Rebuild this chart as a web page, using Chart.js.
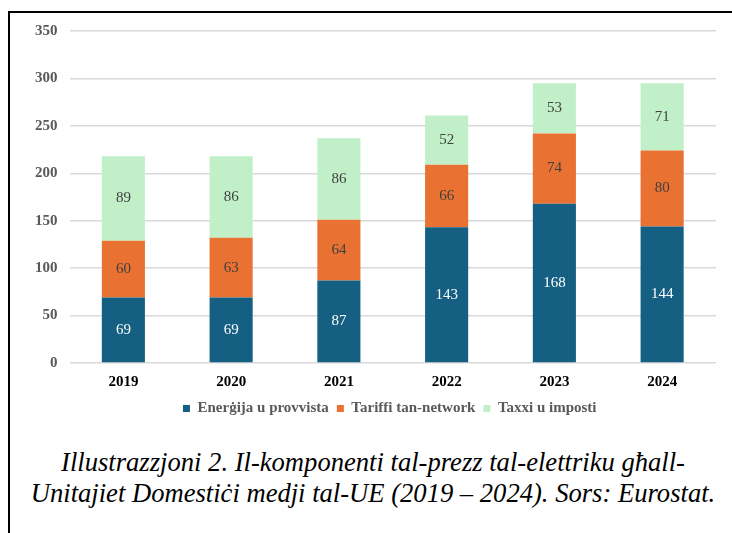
<!DOCTYPE html>
<html>
<head>
<meta charset="utf-8">
<script src="https://cdn.jsdelivr.net/npm/chart.js@4.4.1/dist/chart.umd.min.js"></script>
<style>
  body { margin: 0; background: #fff; width: 732px; height: 533px; overflow: hidden; position: relative; }
  #frame { position: absolute; left: 8px; top: 11px; width: 730px; height: 530px;
           border-top: 2px solid #000; border-left: 2px solid #000; }
  #wrap { position: absolute; left: 10px; top: 10px; width: 722px; height: 416px; }
  #caption { position: absolute; left: 8px; top: 447px; width: 730px; text-align: center;
             font-family: "Liberation Serif", serif;
             font-style: italic; font-size: 26.6px; line-height: 31px; color: #000; }
</style>
</head>
<body>
<div id="frame"></div>
<div id="wrap"><canvas id="grafico"></canvas></div>
<div id="caption">Illustrazzjoni 2. Il-komponenti tal-prezz tal-elettriku għall-<br>Unitajiet Domestiċi medji tal-UE (2019 – 2024). Sors: Eurostat.</div>
<script>
const anni = ["2019", "2020", "2021", "2022", "2023", "2024"];
const energija = [69, 69, 87, 143, 168, 144];
const tariffi = [60, 63, 64, 66, 74, 80];
const taxxi = [89, 86, 86, 52, 53, 71];

const serif = "'Liberation Serif', serif";

// etichette tal-valuri f'nofs kull bicca
const etichetti = {
    id: "etichetti",
    afterDatasetsDraw(chart) {
        const ctx = chart.ctx;
        ctx.save();
        ctx.font = "15px " + serif;
        ctx.textAlign = "center";
        ctx.textBaseline = "middle";
        chart.data.datasets.forEach((ds, i) => {
            const meta = chart.getDatasetMeta(i);
            ctx.fillStyle = i === 0 ? "#ffffff" : "#404040";
            meta.data.forEach((bar, j) => {
                ctx.fillText(ds.data[j], bar.x, (bar.y + bar.base) / 2);
            });
        });
        ctx.restore();
    },
};

// il-legenda centrata fuq iż-żona tal-grafika
const legendaCentru = {
    id: "legendaCentru",
    afterLayout(chart) {
        const lg = chart.legend;
        const shift = (chart.chartArea.left + chart.chartArea.right) / 2 - (lg.left + lg.right) / 2 - 3;
        lg.left += shift;
        lg.right += shift;
    },
};

new Chart(document.getElementById("grafico"), {
    type: "bar",
    data: {
        labels: anni,
        datasets: [
            { label: "Enerġija u provvista", data: energija, backgroundColor: "#156082" },
            { label: "Tariffi tan-network", data: tariffi, backgroundColor: "#E97132" },
            { label: "Taxxi u imposti", data: taxxi, backgroundColor: "#C1F0C8" },
        ],
    },
    options: {
        responsive: true,
        maintainAspectRatio: false,
        animation: false,
        layout: { padding: { top: 4, right: 16, left: 13, bottom: 0 } },
        datasets: { bar: { categoryPercentage: 1, barPercentage: 0.4 } },
        plugins: {
            tooltip: { enabled: false },
            legend: {
                position: "bottom",
                labels: {
                    boxWidth: 7,
                    boxHeight: 7,
                    padding: 8,
                    color: "#595959",
                    font: { family: serif, size: 15, weight: "bold" },
                },
            },
        },
        scales: {
            x: {
                stacked: true,
                grid: { display: false },
                border: { display: false },
                ticks: { color: "#000", padding: 2, font: { family: serif, size: 15, weight: "bold" } },
            },
            y: {
                stacked: true,
                min: 0,
                max: 350,
                border: { display: false },
                grid: { color: "#d9d9d9", lineWidth: 1.5, drawTicks: false },
                ticks: { stepSize: 50, color: "#595959", padding: 12, font: { family: serif, size: 15, weight: "bold" } },
            },
        },
    },
    plugins: [etichetti, legendaCentru],
});
</script>
</body>
</html>
